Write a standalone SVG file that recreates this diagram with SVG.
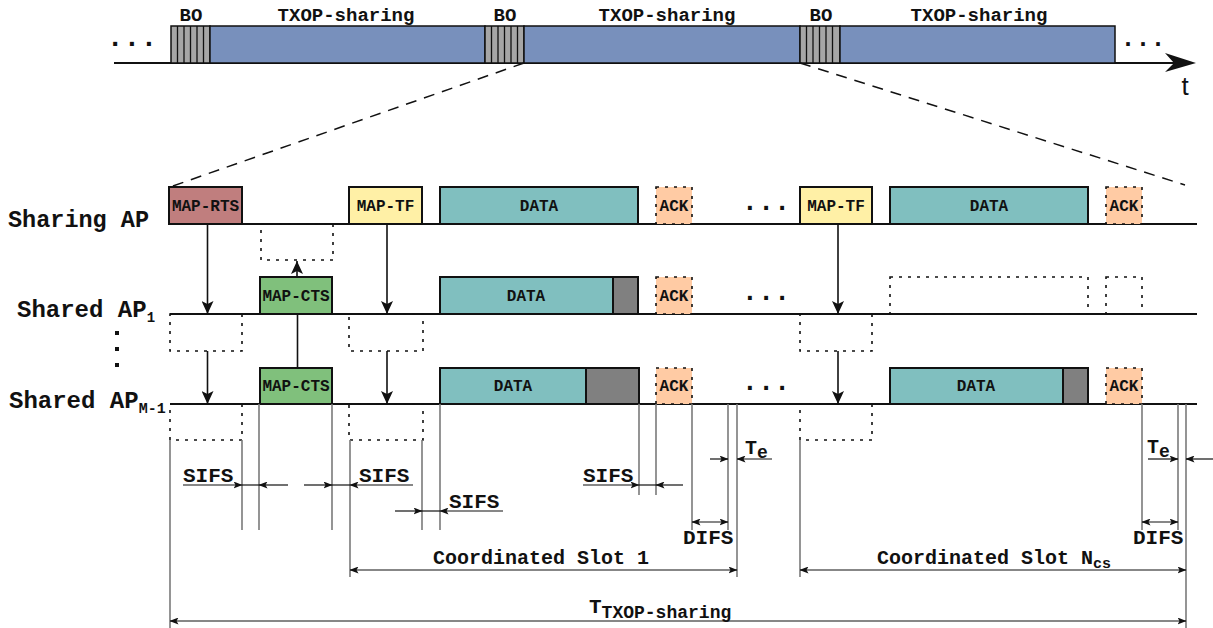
<svg xmlns="http://www.w3.org/2000/svg" width="1213" height="628" viewBox="0 0 1213 628">
<style>
.t{font-family:"Liberation Mono","DejaVu Sans Mono",monospace;font-weight:bold;fill:#111}
.bx{stroke:#111;stroke-width:2}
.dsh{fill:none;stroke:#111;stroke-width:1.6;stroke-dasharray:3 6}
.ack{fill:#FFCBA4;stroke:#111;stroke-width:1.6;stroke-dasharray:3 6}
.row{stroke:#111;stroke-width:1.8}
.gl{stroke:#7a7a7a;stroke-width:1.6}
.dim{stroke:#111;stroke-width:1.2;fill:none}
.va{stroke:#111;stroke-width:1.6}
.bo{fill:#A6A6A6;stroke:#111;stroke-width:1.5}
.blue{fill:#7890BC;stroke:#111;stroke-width:1.5}
.lab{font-size:16px}
</style>
<defs>
<marker id="ah" markerUnits="userSpaceOnUse" markerWidth="14" markerHeight="12" viewBox="0 0 14 12" refX="13" refY="6" orient="auto">
<path d="M0,0 L13,6 L0,12 L3,6 Z" fill="#111"/>
</marker>
<marker id="sa" markerUnits="userSpaceOnUse" markerWidth="9" markerHeight="7" viewBox="0 0 9 7" refX="8.5" refY="3.5" orient="auto-start-reverse">
<path d="M0,0 L9,3.5 L0,7 L2,3.5 Z" fill="#111"/>
</marker>
</defs>
<rect width="1213" height="628" fill="#fff"/>

<!-- top timeline -->
<g id="timeline">
<line x1="114" y1="63" x2="1178" y2="63" stroke="#111" stroke-width="1.8"/>
<path d="M1196,63 L1165,53 L1174,63 L1165,72 Z" fill="#111"/>
<text x="1185" y="95" font-family="Liberation Sans, Arial, sans-serif" font-size="26" text-anchor="middle" fill="#111">t</text>
<text class="t" x="132" y="46" font-size="28" text-anchor="middle">...</text>
<text class="t" x="1143" y="46" font-size="25" text-anchor="middle">...</text>
</g>
<g id="bo1">
<rect class="bo" x="171" y="26" width="39" height="37"/>
<path d="M177.5,26V63M184,26V63M190.5,26V63M197,26V63M203.5,26V63" stroke="#111" stroke-width="1.3"/>
<text class="t" x="191" y="21" font-size="19" text-anchor="middle">BO</text>
</g>
<g id="txop1">
<rect class="blue" x="210" y="26" width="275" height="37"/>
<text class="t" x="346" y="21" font-size="19" text-anchor="middle">TXOP-sharing</text>
</g>
<g id="bo2">
<rect class="bo" x="485" y="26" width="39" height="37"/>
<path d="M491.5,26V63M498,26V63M504.5,26V63M511,26V63M517.5,26V63" stroke="#111" stroke-width="1.3"/>
<text class="t" x="505" y="21" font-size="19" text-anchor="middle">BO</text>
</g>
<g id="txop2">
<rect class="blue" x="524" y="26" width="276" height="37"/>
<text class="t" x="667" y="21" font-size="19" text-anchor="middle">TXOP-sharing</text>
</g>
<g id="bo3">
<rect class="bo" x="800" y="26" width="40" height="37"/>
<path d="M806.5,26V63M813,26V63M819.5,26V63M826,26V63M832.5,26V63" stroke="#111" stroke-width="1.3"/>
<text class="t" x="821" y="21" font-size="19" text-anchor="middle">BO</text>
</g>
<g id="txop3">
<rect class="blue" x="840" y="26" width="275" height="37"/>
<text class="t" x="979" y="21" font-size="19" text-anchor="middle">TXOP-sharing</text>
</g>

<!-- row labels & lines -->
<g id="rows">
<line class="row" x1="169" y1="224" x2="1197" y2="224"/>
<line class="row" x1="170" y1="314" x2="1197" y2="314"/>
<line class="row" x1="170" y1="404" x2="1197" y2="404"/>
<text class="t" x="8" y="227" font-size="23.5">Sharing AP</text>
<text class="t" x="17" y="317" font-size="24">Shared AP<tspan font-size="14" dy="5">1</tspan></text>
<text class="t" x="9" y="408" font-size="24">Shared AP<tspan font-size="15" dy="5">M-1</tspan></text>
<rect x="115" y="331" width="4" height="4" fill="#111"/>
<rect x="115" y="347" width="4" height="4" fill="#111"/>
<rect x="115" y="363" width="4" height="4" fill="#111"/>
</g>

<!-- Sharing AP row -->
<g id="map-rts"><rect class="bx" x="169" y="187" width="73" height="37" fill="#C07E7E"/><text class="t lab" x="205.5" y="211" text-anchor="middle">MAP-RTS</text></g>
<g id="cts-echo"><rect class="dsh" x="261" y="224" width="72" height="36"/></g>
<g id="map-tf1"><rect class="bx" x="349" y="187" width="73" height="37" fill="#FFF0A6"/><text class="t lab" x="385.5" y="211" text-anchor="middle">MAP-TF</text></g>
<g id="data-s1"><rect class="bx" x="440" y="187" width="198" height="37" fill="#80BFBF"/><text class="t lab" x="539" y="211" text-anchor="middle">DATA</text></g>
<g id="ack-s1"><rect class="ack" x="656" y="187" width="36" height="37"/><text class="t lab" x="674" y="211" text-anchor="middle">ACK</text></g>
<text class="t" x="766" y="210" font-size="27" text-anchor="middle">...</text>
<g id="map-tf2"><rect class="bx" x="800" y="187" width="72" height="37" fill="#FFF0A6"/><text class="t lab" x="836" y="211" text-anchor="middle">MAP-TF</text></g>
<g id="data-s2"><rect class="bx" x="890" y="187" width="198" height="37" fill="#80BFBF"/><text class="t lab" x="989" y="211" text-anchor="middle">DATA</text></g>
<g id="ack-s2"><rect class="ack" x="1106" y="187" width="36" height="37"/><text class="t lab" x="1124" y="211" text-anchor="middle">ACK</text></g>

<!-- Shared AP1 row -->
<g id="map-cts1"><rect class="bx" x="260" y="277" width="72" height="37" fill="#80C07C"/><text class="t lab" x="296" y="301" text-anchor="middle">MAP-CTS</text></g>
<g id="rx1a"><rect class="dsh" x="170" y="314" width="72" height="37"/></g>
<g id="rx1b"><rect class="dsh" x="349" y="314" width="74" height="37"/></g>
<g id="data-1"><rect class="bx" x="440" y="277" width="173" height="37" fill="#80BFBF"/><rect class="bx" x="613" y="277" width="25" height="37" fill="#808080"/><text class="t lab" x="526" y="301" text-anchor="middle">DATA</text></g>
<g id="ack-1"><rect class="ack" x="656" y="277" width="36" height="37"/><text class="t lab" x="674" y="301" text-anchor="middle">ACK</text></g>
<text class="t" x="766" y="300" font-size="27" text-anchor="middle">...</text>
<g id="rx1c"><rect class="dsh" x="800" y="314" width="72" height="37"/></g>
<g id="data-1b"><rect class="dsh" x="890" y="277" width="198" height="37"/></g>
<g id="ack-1b"><rect class="dsh" x="1106" y="277" width="36" height="37"/></g>

<!-- Shared AP M-1 row -->
<g id="map-cts2"><rect class="bx" x="260" y="368" width="72" height="36" fill="#80C07C"/><text class="t lab" x="296" y="391" text-anchor="middle">MAP-CTS</text></g>
<g id="rx2a"><rect class="dsh" x="170" y="404" width="72" height="36"/></g>
<g id="rx2b"><rect class="dsh" x="349" y="404" width="74" height="36"/></g>
<g id="data-2"><rect class="bx" x="440" y="368" width="146" height="36" fill="#80BFBF"/><rect class="bx" x="586" y="368" width="53" height="36" fill="#808080"/><text class="t lab" x="513" y="391" text-anchor="middle">DATA</text></g>
<g id="ack-2"><rect class="ack" x="656" y="368" width="36" height="36"/><text class="t lab" x="674" y="391" text-anchor="middle">ACK</text></g>
<text class="t" x="766" y="390" font-size="27" text-anchor="middle">...</text>
<g id="rx2c"><rect class="dsh" x="800" y="404" width="72" height="36"/></g>
<g id="data-2b"><rect class="bx" x="890" y="368" width="173" height="36" fill="#80BFBF"/><rect class="bx" x="1063" y="368" width="25" height="36" fill="#808080"/><text class="t lab" x="976" y="391" text-anchor="middle">DATA</text></g>
<g id="ack-2b"><rect class="ack" x="1106" y="368" width="36" height="36"/><text class="t lab" x="1124" y="391" text-anchor="middle">ACK</text></g>

<!-- connectors -->
<g id="connectors">
<line x1="524" y1="63" x2="170" y2="187" stroke="#111" stroke-width="1.5" stroke-dasharray="11 8"/>
<line x1="800" y1="63" x2="1185" y2="185" stroke="#111" stroke-width="1.5" stroke-dasharray="11 8"/>
<line class="va" x1="207.5" y1="224" x2="207.5" y2="314" marker-end="url(#ah)"/>
<line class="va" x1="207.5" y1="351" x2="207.5" y2="404" marker-end="url(#ah)"/>
<line class="va" x1="387" y1="224" x2="387" y2="314" marker-end="url(#ah)"/>
<line class="va" x1="387" y1="351" x2="387" y2="404" marker-end="url(#ah)"/>
<line class="va" x1="838" y1="224" x2="838" y2="314" marker-end="url(#ah)"/>
<line class="va" x1="838" y1="351" x2="838" y2="404" marker-end="url(#ah)"/>
<line class="va" x1="297" y1="277" x2="297" y2="261" marker-end="url(#ah)"/>
<line class="va" x1="297.5" y1="314" x2="297.5" y2="368"/>

<!-- timing guide lines -->
<line class="gl" x1="170" y1="440" x2="170" y2="628"/>
<line class="gl" x1="242" y1="440" x2="242" y2="530"/>
<line class="gl" x1="259" y1="404" x2="259" y2="530"/>
<line class="gl" x1="332" y1="404" x2="332" y2="530"/>
<line class="gl" x1="350" y1="440" x2="350" y2="577"/>
<line class="gl" x1="422" y1="440" x2="422" y2="530"/>
<line class="gl" x1="440" y1="404" x2="440" y2="530"/>
<line class="gl" x1="639" y1="404" x2="639" y2="495"/>
<line class="gl" x1="656" y1="404" x2="656" y2="495"/>
<line class="gl" x1="692" y1="404" x2="692" y2="530"/>
<line class="gl" x1="728" y1="404" x2="728" y2="530"/>
<line class="gl" x1="737" y1="404" x2="737" y2="577"/>
<line class="gl" x1="800" y1="440" x2="800" y2="577"/>
<line class="gl" x1="1142" y1="404" x2="1142" y2="530"/>
<line class="gl" x1="1178" y1="404" x2="1178" y2="530"/>
<line class="gl" x1="1186" y1="404" x2="1186" y2="628"/>

<!-- dimension arrows -->
<line class="dim" x1="183" y1="485" x2="242" y2="485" marker-end="url(#sa)"/>
<line class="dim" x1="242" y1="485" x2="259" y2="485"/>
<line class="dim" x1="288" y1="485" x2="259" y2="485" marker-end="url(#sa)"/>
<line class="dim" x1="304" y1="485" x2="332" y2="485" marker-end="url(#sa)"/>
<line class="dim" x1="332" y1="485" x2="350" y2="485"/>
<line class="dim" x1="413" y1="485" x2="350" y2="485" marker-end="url(#sa)"/>
<line class="dim" x1="395" y1="511" x2="422" y2="511" marker-end="url(#sa)"/>
<line class="dim" x1="422" y1="511" x2="440" y2="511"/>
<line class="dim" x1="503" y1="511" x2="440" y2="511" marker-end="url(#sa)"/>
<line class="dim" x1="583" y1="485" x2="639" y2="485" marker-end="url(#sa)"/>
<line class="dim" x1="639" y1="485" x2="656" y2="485"/>
<line class="dim" x1="683" y1="485" x2="656" y2="485" marker-end="url(#sa)"/>
<line class="dim" x1="710" y1="459" x2="728" y2="459" marker-end="url(#sa)"/>
<line class="dim" x1="772" y1="459" x2="737" y2="459" marker-end="url(#sa)"/>
<line class="dim" x1="692" y1="522" x2="728" y2="522" marker-start="url(#sa)" marker-end="url(#sa)"/>
<line class="dim" x1="350" y1="570" x2="737" y2="570" marker-start="url(#sa)" marker-end="url(#sa)"/>
<line class="dim" x1="1148" y1="459" x2="1178" y2="459" marker-end="url(#sa)"/>
<line class="dim" x1="1213" y1="459" x2="1186" y2="459" marker-end="url(#sa)"/>
<line class="dim" x1="1142" y1="522" x2="1178" y2="522" marker-start="url(#sa)" marker-end="url(#sa)"/>
<line class="dim" x1="800" y1="570" x2="1186" y2="570" marker-start="url(#sa)" marker-end="url(#sa)"/>
<line class="dim" x1="170" y1="621" x2="1186" y2="621" marker-start="url(#sa)" marker-end="url(#sa)"/>
</g>

<!-- timing labels -->
<g id="timing-labels">
<text class="t" x="183" y="482" font-size="21">SIFS</text>
<text class="t" x="359" y="482" font-size="21">SIFS</text>
<text class="t" x="449" y="508" font-size="21">SIFS</text>
<text class="t" x="583" y="482" font-size="21">SIFS</text>
<text class="t" x="745" y="454" font-size="20">T<tspan font-size="18" dy="4">e</tspan></text>
<text class="t" x="1147" y="453" font-size="20">T<tspan font-size="18" dy="4">e</tspan></text>
<text class="t" x="683" y="544" font-size="21">DIFS</text>
<text class="t" x="1133" y="544" font-size="21">DIFS</text>
<text class="t" x="433" y="564" font-size="20">Coordinated Slot 1</text>
<text class="t" x="877" y="564" font-size="20">Coordinated Slot N<tspan font-size="15" dy="4">cs</tspan></text>
<text class="t" x="589" y="613" font-size="21">T<tspan font-size="18" dy="5">TXOP-sharing</tspan></text>
</g>
</svg>
